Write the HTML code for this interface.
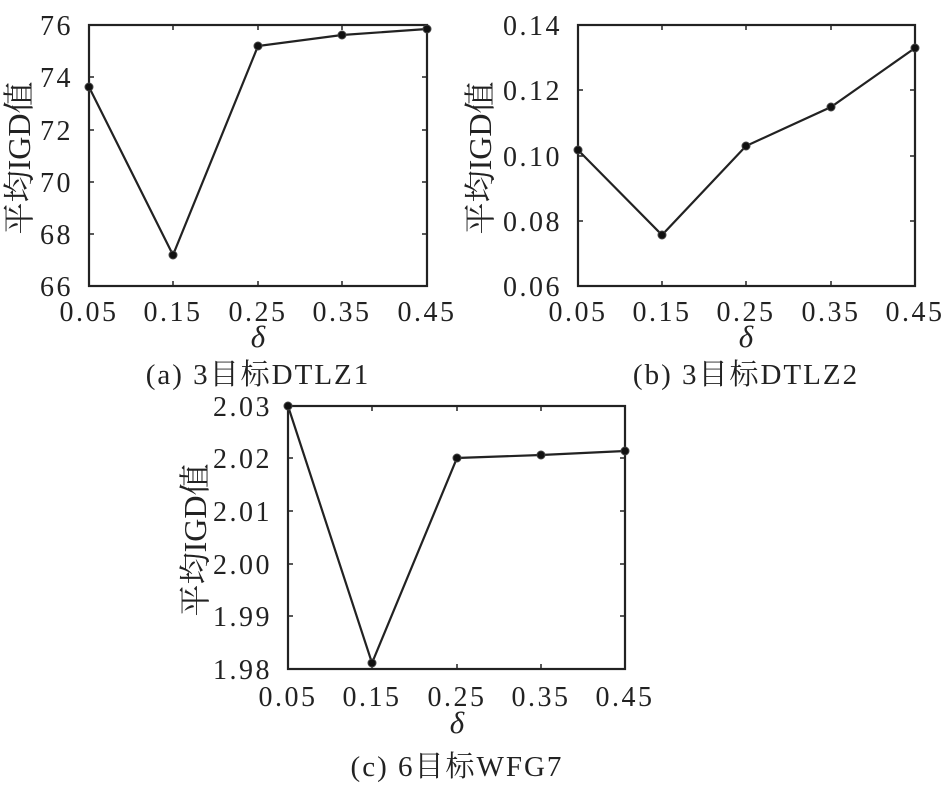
<!DOCTYPE html>
<html><head><meta charset="utf-8"><style>
body{margin:0;background:#fff}
svg text{font-family:"Liberation Serif","Noto Serif CJK SC",serif;fill:#222}
.t{font-size:28px;letter-spacing:2.5px}
.cap{font-size:29px;letter-spacing:2px}
.d{font-size:31px;font-style:italic}
.yl{font-size:32px}
</style></head><body>
<svg width="946" height="788" viewBox="0 0 946 788" xmlns="http://www.w3.org/2000/svg">
<g stroke="#222" fill="none" stroke-width="2.2">
<rect x="89" y="25" width="338" height="261"/>
<path d="M173,286v-5M258,286v-5M342,286v-5M173,25v5M258,25v5M342,25v5M89,77h5M89,130h5M89,182h5M89,234h5M427,77h-5M427,130h-5M427,182h-5M427,234h-5" stroke-width="1.5"/>
<polyline points="89,87 173,255 258,46 342,35 427,29"/>
<rect x="578" y="25" width="337" height="261"/>
<path d="M662,286v-5M746,286v-5M831,286v-5M662,25v5M746,25v5M831,25v5M578,90h5M578,156h5M578,221h5M915,90h-5M915,156h-5M915,221h-5" stroke-width="1.5"/>
<polyline points="578,150 662,235 746,146 831,107 915,48"/>
<rect x="288" y="406" width="337" height="263"/>
<path d="M372,669v-5M457,669v-5M541,669v-5M372,406v5M457,406v5M541,406v5M288,458h5M288,511h5M288,564h5M288,616h5M625,458h-5M625,511h-5M625,564h-5M625,616h-5" stroke-width="1.5"/>
<polyline points="288,406 372,663 457,458 541,455 625,451"/>
</g>
<g fill="#111" stroke="#444" stroke-width="1">
<circle cx="89" cy="87" r="4"/><circle cx="173" cy="255" r="4"/><circle cx="258" cy="46" r="4"/><circle cx="342" cy="35" r="4"/><circle cx="427" cy="29" r="4"/>
<circle cx="578" cy="150" r="4"/><circle cx="662" cy="235" r="4"/><circle cx="746" cy="146" r="4"/><circle cx="831" cy="107" r="4"/><circle cx="915" cy="48" r="4"/>
<circle cx="288" cy="406" r="4"/><circle cx="372" cy="663" r="4"/><circle cx="457" cy="458" r="4"/><circle cx="541" cy="455" r="4"/><circle cx="625" cy="451" r="4"/>
</g>
<g class="t" text-anchor="end">
<text x="73" y="35">76</text><text x="73" y="87">74</text><text x="73" y="140">72</text><text x="73" y="192">70</text><text x="73" y="244">68</text><text x="73" y="296">66</text>
<text x="562" y="35">0.14</text><text x="562" y="100">0.12</text><text x="562" y="166">0.10</text><text x="562" y="231">0.08</text><text x="562" y="296">0.06</text>
<text x="272" y="416">2.03</text><text x="272" y="468">2.02</text><text x="272" y="521">2.01</text><text x="272" y="574">2.00</text><text x="272" y="626">1.99</text><text x="272" y="679">1.98</text>
</g>
<g class="t" text-anchor="middle">
<text x="89" y="321">0.05</text><text x="173" y="321">0.15</text><text x="258" y="321">0.25</text><text x="342" y="321">0.35</text><text x="427" y="321">0.45</text>
<text x="578" y="321">0.05</text><text x="662" y="321">0.15</text><text x="746" y="321">0.25</text><text x="831" y="321">0.35</text><text x="915" y="321">0.45</text>
<text x="288" y="706">0.05</text><text x="372" y="706">0.15</text><text x="457" y="706">0.25</text><text x="541" y="706">0.35</text><text x="625" y="706">0.45</text>
</g>
<g class="d" text-anchor="middle">
<text x="258" y="347">δ</text><text x="746" y="347">δ</text><text x="457" y="733">δ</text>
</g>
<g class="cap" text-anchor="middle">
<text x="258" y="384">(a) 3目标DTLZ1</text>
<text x="746" y="384">(b) 3目标DTLZ2</text>
<text x="457" y="776">(c) 6目标WFG7</text>
</g>
<g class="yl" text-anchor="middle">
<text transform="translate(30,158) rotate(-90)">平均IGD值</text>
<text transform="translate(491,158) rotate(-90)">平均IGD值</text>
<text transform="translate(206,540) rotate(-90)">平均IGD值</text>
</g>
</svg>
</body></html>
